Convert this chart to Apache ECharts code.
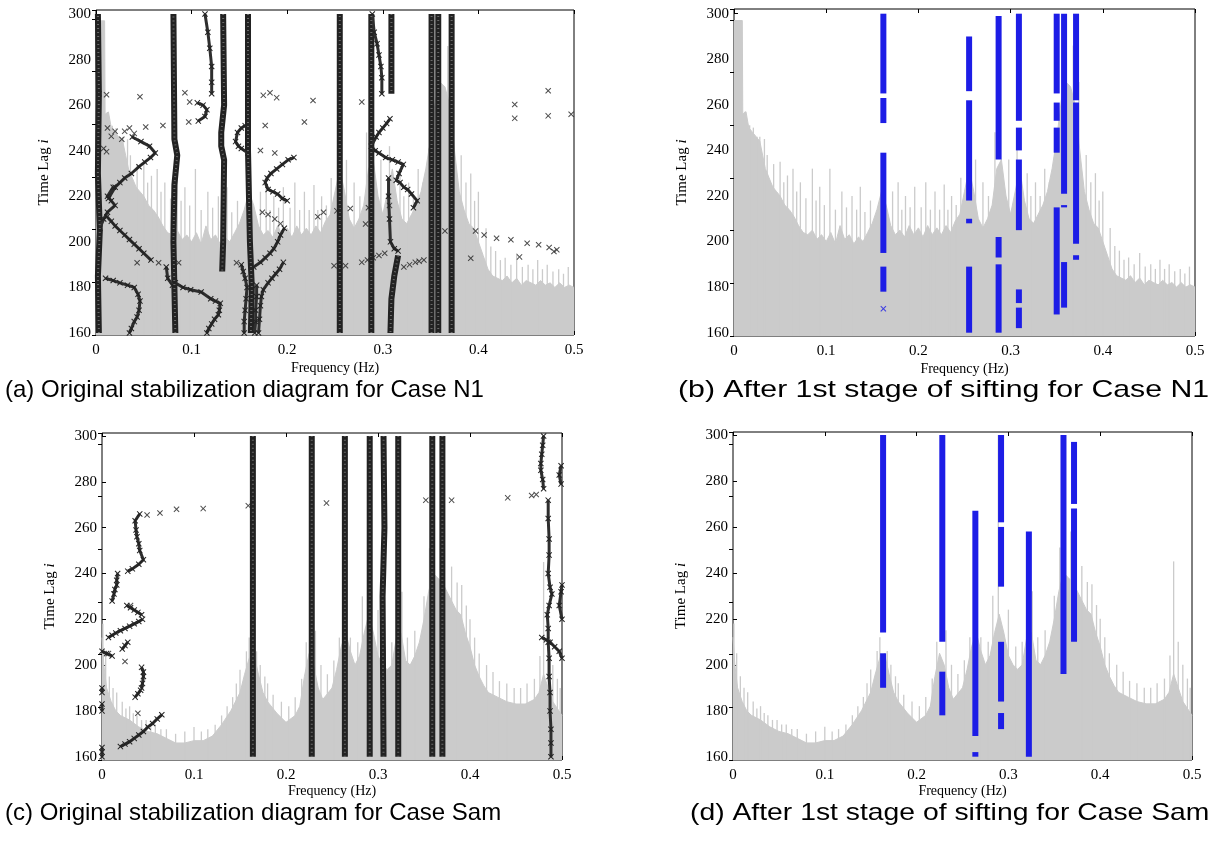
<!DOCTYPE html>
<html>
<head>
<meta charset="utf-8">
<script src="https://cdn.jsdelivr.net/npm/echarts@6/dist/echarts.min.js"></script>
<style>
  html, body { margin: 0; padding: 0; background: #fff; }
  #chart { width: 1219px; height: 843px; }
</style>
</head>
<body>
<div id="chart"></div>
<script>
// ---------------- data ----------------
// spectrum body of case N1, [freq Hz, time lag]
const spectrumN1 = [
  [0,297],[0.001,297],[0.009,297],[0.0095,256],[0.013,257],[0.016,250],[0.02,248],[0.024,246],[0.028,244],
  [0.031,238],[0.034,232],[0.038,228],[0.042,224],[0.046,222],[0.05,220],[0.055,216],[0.06,214],[0.065,211],
  [0.07,207],[0.075,204],[0.08,203],[0.085,205],[0.09,201],[0.095,203],[0.1,200],[0.105,204],[0.11,199],
  [0.115,207],[0.12,201],[0.125,203],[0.13,199],[0.135,202],[0.14,200],[0.145,204],[0.15,208],[0.155,214],
  [0.16,222],[0.165,216],[0.17,207],[0.175,203],[0.18,205],[0.185,202],[0.19,207],[0.195,203],[0.2,206],
  [0.205,202],[0.21,207],[0.215,203],[0.22,206],[0.225,203],[0.23,207],[0.235,204],[0.24,209],[0.245,212],
  [0.25,222],[0.255,232],[0.26,222],[0.265,210],[0.27,206],[0.275,210],[0.28,216],[0.285,232],[0.29,236],
  [0.295,220],[0.3,212],[0.305,222],[0.31,232],[0.315,218],[0.32,210],[0.325,208],[0.33,212],[0.335,216],
  [0.34,222],[0.345,232],[0.35,245],[0.355,262],[0.36,270],[0.365,268],[0.37,260],[0.375,240],[0.38,222],
  [0.385,214],[0.39,208],[0.395,206],[0.4,200],[0.405,194],[0.41,188],[0.415,185],[0.42,184],[0.425,183],
  [0.43,185],[0.435,182],[0.44,184],[0.445,181],[0.45,183],[0.455,182],[0.46,181],[0.465,183],[0.47,181],
  [0.475,182],[0.48,180],[0.485,182],[0.49,180],[0.495,181],[0.5,180]
];
// tallest spikes of case N1, [freq, top lag]
const spikesN1 = [
  [0.012,257],[0.017,251],[0.021,250],[0.025,246],[0.028,246],[0.033,245],[0.036,238],[0.043,234],[0.05,235],
  [0.054,226],[0.058,229],[0.064,232],[0.068,222],[0.072,226],[0.078,219],[0.085,232],[0.089,218],[0.093,224],
  [0.098,216],[0.104,232],[0.11,214],[0.117,222],[0.122,215],[0.128,220],[0.133,214],[0.137,224],[0.142,213],
  [0.148,218],[0.172,222],[0.178,226],[0.182,214],[0.186,220],[0.191,215],[0.196,224],[0.203,215],[0.208,226],
  [0.213,214],[0.218,222],[0.223,214],[0.228,225],[0.232,214],[0.236,220],[0.241,216],[0.246,228],[0.253,243],
  [0.262,236],[0.27,226],[0.276,220],[0.283,248],[0.298,236],[0.307,242],[0.318,230],[0.322,220],[0.327,226],
  [0.332,220],[0.337,232],[0.342,226],[0.348,241],[0.358,291],[0.368,286],[0.374,270],[0.382,238],[0.387,226],
  [0.392,230],[0.396,218],[0.4,222],[0.408,206],[0.413,198],[0.418,196],[0.423,192],[0.428,193],[0.434,190],
  [0.44,195],[0.446,189],[0.452,190],[0.457,188],[0.462,192],[0.467,188],[0.472,190],[0.478,187],[0.484,188],
  [0.489,186],[0.494,189]
];
// spectrum body of case Sam
const spectrumSam = [
  [0,212],[0.002,200],[0.005,190],[0.01,184],[0.015,180],[0.02,178],[0.03,176],[0.04,173],[0.05,171],
  [0.06,170],[0.07,168],[0.08,166],[0.09,166],[0.1,167],[0.11,167],[0.12,169],[0.13,174],[0.14,180],
  [0.15,188],[0.155,196],[0.16,203],[0.165,205],[0.17,196],[0.175,188],[0.18,184],[0.19,179],[0.2,175],
  [0.21,178],[0.215,182],[0.22,195],[0.225,205],[0.23,200],[0.235,190],[0.24,185],[0.25,190],[0.255,198],
  [0.26,208],[0.265,214],[0.27,206],[0.275,200],[0.28,204],[0.285,214],[0.29,222],[0.295,214],[0.3,204],
  [0.305,200],[0.31,198],[0.315,200],[0.32,212],[0.325,214],[0.33,202],[0.335,200],[0.34,204],[0.345,210],
  [0.35,220],[0.355,232],[0.36,240],[0.365,238],[0.37,236],[0.375,232],[0.38,228],[0.385,224],[0.39,222],
  [0.395,214],[0.4,208],[0.405,200],[0.41,195],[0.415,191],[0.42,188],[0.43,186],[0.44,184],[0.45,183],
  [0.46,183],[0.47,185],[0.475,188],[0.48,196],[0.485,190],[0.49,184],[0.5,178]
];
const spikesSam = [
  [0.001,218],[0.004,205],[0.008,195],[0.012,190],[0.016,188],[0.022,184],[0.026,181],[0.03,182],[0.034,179],
  [0.038,178],[0.043,176],[0.048,176],[0.053,174],[0.058,174],[0.064,172],[0.07,172],[0.08,170],[0.09,171],
  [0.1,173],[0.108,171],[0.115,172],[0.123,174],[0.13,178],[0.136,182],[0.142,186],[0.146,192],[0.15,198],
  [0.157,206],[0.16,212],[0.168,206],[0.172,200],[0.177,195],[0.18,192],[0.186,187],[0.195,184],[0.203,182],
  [0.21,186],[0.217,194],[0.222,210],[0.232,215],[0.238,200],[0.245,196],[0.252,202],[0.258,212],[0.27,212],
  [0.278,210],[0.283,230],[0.289,300],[0.3,224],[0.308,208],[0.315,210],[0.326,232],[0.332,212],[0.34,215],
  [0.35,230],[0.356,251],[0.368,258],[0.38,243],[0.386,236],[0.391,235],[0.396,226],[0.4,220],[0.405,212],
  [0.41,205],[0.418,200],[0.425,197],[0.432,193],[0.44,192],[0.448,190],[0.455,190],[0.462,192],[0.47,194],
  [0.476,204],[0.48,245],[0.485,210],[0.49,200],[0.495,194],[0.498,190]
];

// (a) pole tracks: dense columns and thinner wandering chains
const columnsA = [
  [[0.003,160],[0.002,185],[0.004,205],[0.002,230],[0.003,265],[0.002,300]],
  [[0.083,160],[0.082,180],[0.081,200],[0.082,225],[0.085,238],[0.082,245],[0.081,300]],
  [[0.133,300],[0.134,260],[0.131,248],[0.131,242],[0.134,236],[0.133,200],[0.132,187]],
  [[0.159,300],[0.159,240],[0.161,200],[0.163,180],[0.162,160]],
  [[0.255,160],[0.255,300]],
  [[0.288,160],[0.288,300]],
  [[0.309,300],[0.309,265]],
  [[0.316,194],[0.312,185],[0.309,175],[0.308,160]],
  [[0.351,160],[0.351,300]],
  [[0.358,160],[0.358,300]],
  [[0.372,160],[0.372,300]]
];
const curvesA = [
  [[0.0735,189],[0.075,184],[0.08,181]],
  [[0.114,300],[0.117,292],[0.119,285],[0.121,277],[0.121,270],[0.121,265]],
  [[0.106,261],[0.112,260],[0.116,258],[0.114,255],[0.107,253]],
  [[0.156,251],[0.152,250],[0.148,248],[0.146,244],[0.149,242],[0.152,241],[0.159,239]],
  [[0.207,237],[0.201,236],[0.195,234],[0.189,232],[0.183,230],[0.179,228],[0.177,226],[0.18,223],[0.185,222],
   [0.19,221],[0.195,219],[0.2,218]],
  [[0.197,206],[0.193,203],[0.19,200],[0.186,197],[0.182,195],[0.177,193],[0.172,191],[0.165,189]],
  [[0.196,191],[0.192,188],[0.188,186],[0.184,184],[0.18,182],[0.175,179],[0.173,176],[0.172,172],[0.171,166],
   [0.17,160]],
  [[0.152,190],[0.154,187],[0.156,184],[0.158,180],[0.157,175],[0.156,170],[0.155,165],[0.155,160]],
  [[0.168,181],[0.168,176],[0.167,170],[0.167,165],[0.166,160]],
  [[0.289,300],[0.291,292],[0.294,287],[0.296,282],[0.298,277],[0.299,272],[0.299,265]],
  [[0.3075,254],[0.304,252],[0.3,250],[0.296,248],[0.293,246],[0.288,242],[0.292,240],[0.296,239],[0.303,237],
   [0.31,236],[0.316,235],[0.3215,234],[0.317,230],[0.314,227],[0.318,226],[0.322,224],[0.326,223],[0.33,221],
   [0.336,218],[0.332,215]],
  [[0.306,228],[0.306,220],[0.307,210],[0.308,200],[0.312,197],[0.316,196]],
  [[0.013,219],[0.02,224],[0.025,226],[0.03,228],[0.037,230],[0.045,233],[0.051,235],[0.057,237],[0.062,239],
   [0.056,242],[0.047,244],[0.038,246]],
  [[0.0115,211],[0.016,209],[0.02,207],[0.025,205],[0.03,203],[0.035,201],[0.04,199],[0.045,197],[0.05,195],
   [0.0575,192]],
  [[0.004,206],[0.008,210],[0.012,213],[0.02,216],[0.016,218],[0.012,220],[0.018,224]],
  [[0.01,184],[0.018,183],[0.025,182],[0.033,181],[0.04,180],[0.044,177],[0.046,174],[0.045,170],[0.043,167],
   [0.04,165],[0.037,162],[0.035,160]],
  [[0.083,182],[0.091,180],[0.099,179],[0.11,178],[0.12,175],[0.125,174],[0.13,173],[0.129,170],[0.128,168],
   [0.124,166],[0.121,164],[0.118,162],[0.116,160]]
];
const pointsA = [
  [0.046,263.7],[0.093,265.4],[0.098,261.4],[0.097,252.6],[0.07,251.1],[0.052,250.4],[0.175,264.3],[0.182,265.4],
  [0.189,263.3],[0.177,251.1],[0.172,240.1],[0.187,239],[0.003,265],[0.011,264.6],[0.012,250],[0.02,248.5],
  [0.03,248.5],[0.016,246.3],[0.035,250],[0.027,245],[0.04,247.6],[0.008,241],[0.011,239.6],[0.227,262],
  [0.218,252.6],[0.438,260.3],[0.473,266.3],[0.438,254.2],[0.473,255.3],[0.497,256],[0.278,261.4],[0.232,211],
  [0.238,213],[0.252,213.6],[0.266,214.6],[0.282,207.8],[0.285,215],[0.307,216],[0.365,204.8],[0.397,204.8],
  [0.406,203],[0.419,201.6],[0.434,200.9],[0.451,199.4],[0.463,198.7],[0.474,197.5],[0.479,195.8],[0.482,196.5],
  [0.443,193.4],[0.392,192.8],[0.249,189.5],[0.255,189],[0.261,189.5],[0.278,191],[0.284,192],[0.29,193],
  [0.296,194],[0.302,195],[0.322,189],[0.328,190],[0.334,191],[0.338,191.5],[0.343,192],[0.043,190.8],
  [0.0655,190.8],[0.0864,190.8],[0.147,190.8],[0.174,213],[0.18,212],[0.187,210],[0.193,208]
];

// (b) stable poles kept after sifting, [freq, upper lag, lower lag]
const stableB = [
  [0.162,300,265],[0.162,263,252],[0.162,239,195],[0.162,189,178],
  [0.255,290,266],[0.255,262,218],[0.255,210,208],[0.255,189,160],
  [0.287,299,236],[0.287,202,193],[0.287,190,160],
  [0.309,300,253],[0.309,250,240],[0.309,236,205],[0.309,179,173],[0.309,171,162],
  [0.350,300,265],[0.350,261,253],[0.350,250,239],[0.350,215,168],
  [0.358,300,221],[0.358,216,215],[0.358,191,171],
  [0.371,300,262],[0.371,261,199],[0.371,194,192]
];
const pointsB = [[0.162,170.5]];

// (c) pole tracks
const columnsC = [
  [[0.164,160],[0.164,300]],
  [[0.228,160],[0.228,300]],
  [[0.264,160],[0.264,300]],
  [[0.291,160],[0.291,300]],
  [[0.306,160],[0.305,230],[0.307,260],[0.306,300]],
  [[0.322,160],[0.322,300]],
  [[0.359,160],[0.359,300]],
  [[0.370,160],[0.370,300]]
];
const curvesC = [
  [[0.480,300],[0.479,296],[0.478,292],[0.477,288],[0.477,285],[0.479,281],[0.480,277]],
  [[0.485,272],[0.485,264],[0.486,255],[0.486,248],[0.485,240],[0.487,234],[0.489,231],[0.486,226],[0.484,222],
   [0.485,216],[0.485,210],[0.486,203],[0.486,195],[0.487,188],[0.487,180],[0.488,172],[0.488,166],[0.488,160]],
  [[0.499,287],[0.497,283],[0.499,279]],
  [[0.5,235],[0.499,232],[0.497,226],[0.5,220]],
  [[0.478,212],[0.483,211],[0.487,210],[0.492,208],[0.497,206],[0.5,203]],
  [[0.041,266],[0.036,263],[0.037,259],[0.038,256],[0.04,253],[0.041,250],[0.045,246],[0.04,244],[0.033,242],
   [0.028,241]],
  [[0.017,240],[0.016,237],[0.016,235],[0.014,233],[0.013,231],[0.011,228]],
  [[0.027,226],[0.031,225],[0.035,224],[0.039,223],[0.043,222]],
  [[0.044,220],[0.04,219],[0.035,218],[0.03,217],[0.025,216],[0.02,215],[0.015,214],[0.011,213],[0.007,212]],
  [[0.022,207],[0.025,208.5],[0.028,210]],
  [[0.0,206],[0.005,205],[0.011,204]],
  [[0.043,199],[0.045,197],[0.045,195],[0.044,192],[0.043,190]],
  [[0.036,186],[0.039,187.5],[0.042,189]],
  [[0.02,164.4],[0.025,165.5],[0.03,166.5],[0.035,168],[0.04,169.5],[0.045,171],[0.05,173],[0.055,174.5],
   [0.06,176.5],[0.065,178.3]],
  [[0.0,160],[0.0,162],[0.0,164]],
  [[0.0,180],[0.0,183]],
  [[0.0,188],[0.0,190]]
];
const pointsC = [
  [0.049,265.5],[0.063,266.4],[0.081,268],[0.11,268.3],[0.159,269.6],[0.244,270.7],[0.352,272],[0.38,272],
  [0.441,273],[0.467,274],[0.472,274.5],[0.025,201.6],[0.039,179],[0.031,226],[0.007,205]
];

// (d) stable poles kept after sifting
const stableD = [
  [0.1635,300,214],[0.1635,205,190],
  [0.228,300,210],[0.228,197,178],
  [0.264,267,169],[0.264,162,160],
  [0.292,300,262],[0.292,260,234],[0.292,210,184],[0.292,179,172],
  [0.3223,258,160],
  [0.36,300,196],
  [0.3715,297,270],[0.3715,268,210]
];

const captions = [
  '(a) Original stabilization diagram for Case N1',
  '(b) After 1st stage of sifting for Case N1',
  '(c) Original stabilization diagram for Case Sam',
  '(d) After 1st stage of sifting for Case Sam'
];

// ---------------- layout / styles ----------------
const SERIF = '"Liberation Serif", "Times New Roman", serif';
const GREY = '#cbcbcb';
const INK = '#222222';
const BLUE = '#1d1de6';
const XMARK = 'path://M0,1.2L1.2,0L5,3.8L8.8,0L10,1.2L6.2,5L10,8.8L8.8,10L5,6.2L1.2,10L0,8.8L3.8,5Z';

const grids = [
  { left: 96, top: 10, width: 478, height: 325 },
  { left: 734, top: 9, width: 461, height: 327 },
  { left: 102, top: 433, width: 460, height: 327 },
  { left: 733, top: 432, width: 459, height: 328 }
];
const yRange = [[159.12, 301.76], [158.55, 302.06], [158.56, 301.31], [158.56, 301.31]];
const nameGapX = [26, 26, 23, 23];
// caption left, top, horizontal stretch
const captionPos = [[5, 378, 1], [678, 378, 1.26], [5, 801, 1], [690, 801, 1.18]];

const tick = { inside: true, length: 4, lineStyle: { color: '#000' } };
const xAxes = [], yAxes = [];
grids.forEach((g, i) => {
  xAxes.push({
    gridIndex: i, type: 'value', min: 0, max: 0.5, interval: 0.1,
    name: 'Frequency (Hz)', nameLocation: 'middle', nameGap: nameGapX[i],
    nameTextStyle: { fontFamily: SERIF, fontSize: 14, color: '#000' },
    axisLine: { show: false }, axisTick: tick, splitLine: { show: false },
    axisLabel: { fontFamily: SERIF, fontSize: 15, color: '#000', margin: 8 }
  });
  xAxes.push({
    gridIndex: i, type: 'value', position: 'top', min: 0, max: 0.5, interval: 0.1,
    axisLine: { show: false }, axisTick: tick, axisLabel: { show: false }, splitLine: { show: false }
  });
  yAxes.push({
    gridIndex: i, type: 'value', min: yRange[i][0], max: yRange[i][1], splitNumber: 7,
    name: 'Time Lag {it|i}', nameLocation: 'middle', nameGap: 44,
    nameTextStyle: { fontFamily: SERIF, fontSize: 15, color: '#000',
      rich: { it: { fontFamily: SERIF, fontSize: 15, fontStyle: 'italic', color: '#000' } } },
    axisLine: { show: false }, axisTick: tick, splitLine: { show: false },
    axisLabel: { fontFamily: SERIF, fontSize: 15, color: '#000', margin: 5,
      showMinLabel: false, showMaxLabel: false }
  });
  yAxes.push({
    gridIndex: i, type: 'value', position: 'right', min: 0, max: g.height / 52.7, interval: 1,
    axisLine: { show: false }, axisTick: tick, axisLabel: { show: false }, splitLine: { show: false }
  });
});

const series = [];
function spectrum(p, body, spikes) {
  series.push({
    type: 'line', xAxisIndex: p * 2, yAxisIndex: p * 2, data: body, symbol: 'none', silent: true,
    lineStyle: { color: GREY, width: 1 }, areaStyle: { color: GREY, opacity: 1, origin: 'start' }, z: 1
  });
  const yMin = yRange[p][0];
  series.push({
    type: 'custom', xAxisIndex: p * 2, yAxisIndex: p * 2, data: spikes, silent: true, z: 1,
    renderItem: (params, api) => {
      const a = api.coord([api.value(0), yMin]);
      const b = api.coord([api.value(0), api.value(1)]);
      return { type: 'line', shape: { x1: a[0], y1: a[1], x2: b[0], y2: b[1] },
        style: { stroke: GREY, lineWidth: 1.3 } };
    }
  });
}
// dense columns of markers
function columns(p, list) {
  list.forEach(t => {
    series.push({
      type: 'line', xAxisIndex: p * 2, yAxisIndex: p * 2, data: t, symbol: 'none', silent: true,
      lineStyle: { color: INK, width: 6 }, z: 3
    });
    series.push({
      type: 'line', xAxisIndex: p * 2, yAxisIndex: p * 2, data: t, symbol: 'none', silent: true,
      lineStyle: { color: '#6a6a6a', width: 2, type: [1, 3] }, z: 4
    });
  });
}
// looser chains of crosses
function chains(p, list) {
  list.forEach(t => series.push({
    type: 'line', xAxisIndex: p * 2, yAxisIndex: p * 2, data: t, silent: true,
    symbol: XMARK, symbolSize: 6, showAllSymbol: true, itemStyle: { color: INK },
    lineStyle: { color: '#2e2e2e', width: 3 }, z: 3
  }));
}
function segments(p, list) {
  list.forEach(s => series.push({
    type: 'line', xAxisIndex: p * 2, yAxisIndex: p * 2, data: [[s[0], s[1]], [s[0], s[2]]],
    symbol: 'none', silent: true, lineStyle: { color: BLUE, width: 6 }, z: 3
  }));
}
function marks(p, pts, color) {
  series.push({
    type: 'scatter', xAxisIndex: p * 2, yAxisIndex: p * 2, data: pts, symbol: XMARK, symbolSize: 6,
    silent: true, itemStyle: { color: color }, z: 5
  });
}

spectrum(0, spectrumN1, spikesN1);
columns(0, columnsA);
chains(0, curvesA);
marks(0, pointsA, INK);

spectrum(1, spectrumN1, spikesN1);
segments(1, stableB);
marks(1, pointsB, BLUE);

spectrum(2, spectrumSam, spikesSam);
columns(2, columnsC);
chains(2, curvesC);
marks(2, pointsC, INK);

spectrum(3, spectrumSam, spikesSam);
segments(3, stableD);

const chart = echarts.init(document.getElementById('chart'));
chart.setOption({
  animation: false,
  backgroundColor: '#fff',
  grid: grids.map(g => Object.assign({ show: true, borderColor: '#000', borderWidth: 1, backgroundColor: 'transparent' }, g)),
  xAxis: xAxes,
  yAxis: yAxes,
  series: series,
  graphic: captions.map((c, i) => ({
    type: 'text', x: captionPos[i][0], y: captionPos[i][1], scaleX: captionPos[i][2], z: 10,
    style: { text: c, font: '24px "Liberation Sans", Arial, sans-serif', fill: '#000' }
  }))
});
</script>
</body>
</html>
